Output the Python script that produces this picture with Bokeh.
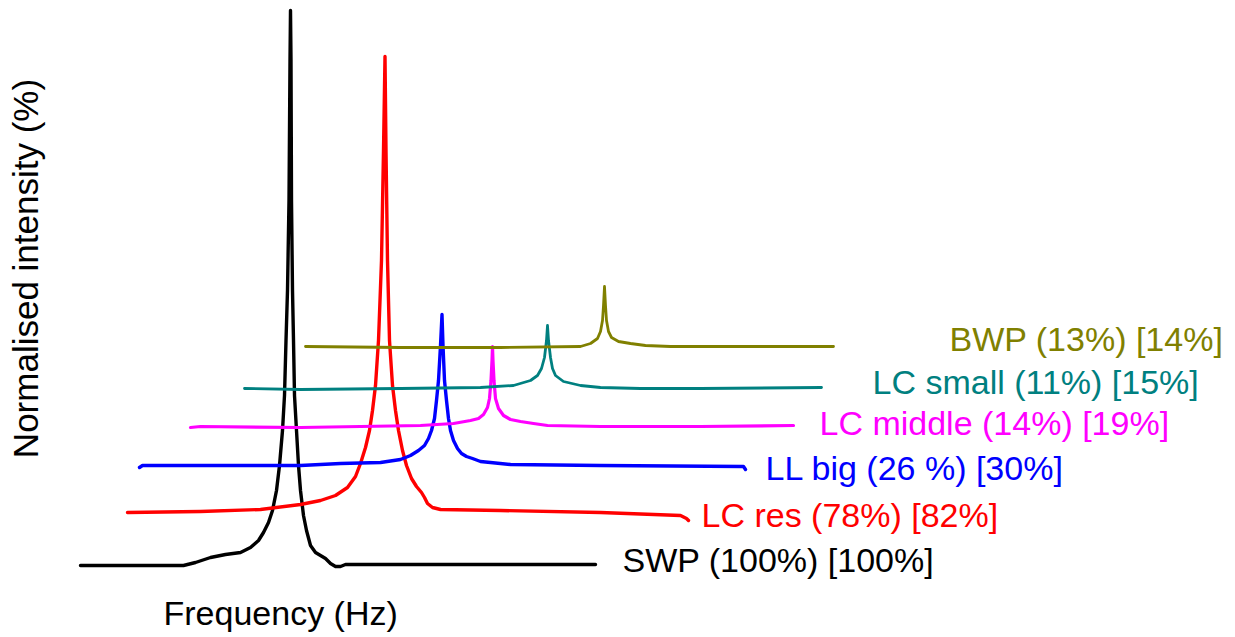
from bokeh.plotting import figure
from bokeh.models import Range1d, Label
from bokeh.embed import file_html
from bokeh.resources import INLINE
import math

# ---- data (frequency in arbitrary units, intensity in arbitrary stacked units) ----
swp_freq = [80, 120, 183, 195, 210, 225, 240, 250, 258, 263, 268, 272, 276, 279, 282, 284, 285.5, 287, 288.5, 289.5, 290,
            290.5, 291, 292, 293, 294, 296, 298, 300, 303, 306, 310, 315, 320, 325, 330, 335, 340, 345, 360, 595]
swp_int = [565, 565, 565, 562, 557, 554, 552, 547, 540, 532, 522, 510, 490, 465, 430, 395, 340, 290, 200, 60, 10,
           60, 200, 290, 340, 395, 430, 465, 490, 515, 530, 545, 552, 555, 558, 563, 566, 566, 564, 564, 564]

lcres_freq = [127, 200, 260, 300, 320, 335, 347, 355, 360, 365, 369, 372, 375, 378, 381, 383, 384.5,
              385.5, 387, 389, 392, 395, 398, 402, 406, 411, 416, 421, 424, 427, 432, 440, 500, 600, 680, 686, 688]
lcres_int = [512, 511, 509, 504, 500, 495, 487, 476, 463, 447, 430, 410, 385, 340, 260, 150, 56,
             150, 260, 340, 385, 410, 430, 450, 465, 478, 486, 492, 497, 503, 507, 509, 510, 512, 515, 518, 520]

llbig_freq = [139, 142, 200, 300, 340, 380, 400, 410, 418, 424, 428, 431, 434, 436, 438, 440, 441.5,
              442.5, 444, 446, 448, 450, 453, 457, 461, 466, 472, 480, 490, 510, 600, 743, 745]
llbig_int = [467, 465, 465, 465, 463, 462, 459, 455, 450, 445, 438, 430, 418, 400, 380, 345, 314,
             345, 380, 400, 418, 430, 440, 448, 453, 456, 458, 461, 462, 464, 465, 466, 469]

lcmid_freq = [190, 200, 300, 420, 453, 470, 478, 483, 487, 489, 490.5, 491.5, 492,
              492.5, 493.5, 495, 498, 503, 510, 520, 533, 547, 600, 700, 793]
lcmid_int = [427, 426, 427, 425, 423, 420, 418, 414, 407, 398, 380, 360, 346,
             360, 380, 398, 408, 415, 419, 421, 423, 425, 426, 426, 425]

lcsmall_freq = [244, 300, 400, 480, 513, 530, 537, 541, 544, 546, 547,
                548, 550, 552, 555, 563, 580, 600, 640, 700, 821]
lcsmall_int = [388, 389, 388, 387, 385, 380, 375, 368, 357, 340, 325,
               340, 357, 368, 375, 381, 385, 387, 388, 388, 387]

bwp_freq = [305, 400, 500, 580, 590, 597, 600, 602, 603, 604,
            605, 606, 608, 611, 618, 630, 645, 670, 750, 833]
bwp_int = [346, 347, 347, 346, 343, 338, 331, 320, 305, 286,
           305, 320, 331, 337, 341, 343, 345, 346, 346, 346]

series_names = ["SWP (100%) [100%]", "LC res (78%) [82%]", "LL big (26 %) [30%]",
                "LC middle (14%) [19%]", "LC small (11%) [15%]", "BWP (13%) [14%]"]
series_freq = [swp_freq, lcres_freq, llbig_freq, lcmid_freq, lcsmall_freq, bwp_freq]
series_int = [swp_int, lcres_int, llbig_int, lcmid_int, lcsmall_int, bwp_int]

# ---- styles / layout ----
colors = ["#000000", "#FF0000", "#0000FF", "#FF00FF", "#008080", "#808000"]
widths = [3.4, 3.4, 3.4, 3.2, 2.8, 2.8]
label_x = [622, 701, 765, 819, 872, 949]
label_y = [559, 514, 467, 422, 381, 338]

TOP = 637  # reference height used to flip the stacked intensities

p = figure(width=1235, height=637, output_backend="svg", toolbar_location=None,
           x_range=Range1d(0, 1235), y_range=Range1d(0, 637),
           x_axis_location=None, y_axis_location=None, min_border=0)
p.grid.visible = False
p.outline_line_color = None
p.background_fill_color = "white"
p.border_fill_color = "white"

for f, i, c, w in zip(series_freq, series_int, colors, widths):
    p.line(f, [TOP - v for v in i], line_color=c, line_width=w, line_join="round", line_cap="round")

font = "Liberation Sans"
for name, c, lx, ly in zip(series_names, colors, label_x, label_y):
    p.add_layout(Label(x=lx, y=TOP - ly, text=name, text_color=c, text_font=font,
                       text_font_size="34px", text_align="left", text_baseline="alphabetic"))

p.add_layout(Label(x=163, y=TOP - 612, text="Frequency (Hz)", text_color="black", text_font=font,
                   text_font_size="34px", text_align="left", text_baseline="alphabetic"))
p.add_layout(Label(x=25, y=TOP - 268, text="Normalised intensity (%)", text_color="black", text_font=font,
                   text_font_size="35px", text_align="center", text_baseline="middle", angle=math.pi / 2))

open("out.html", "w").write(file_html(p, INLINE))
